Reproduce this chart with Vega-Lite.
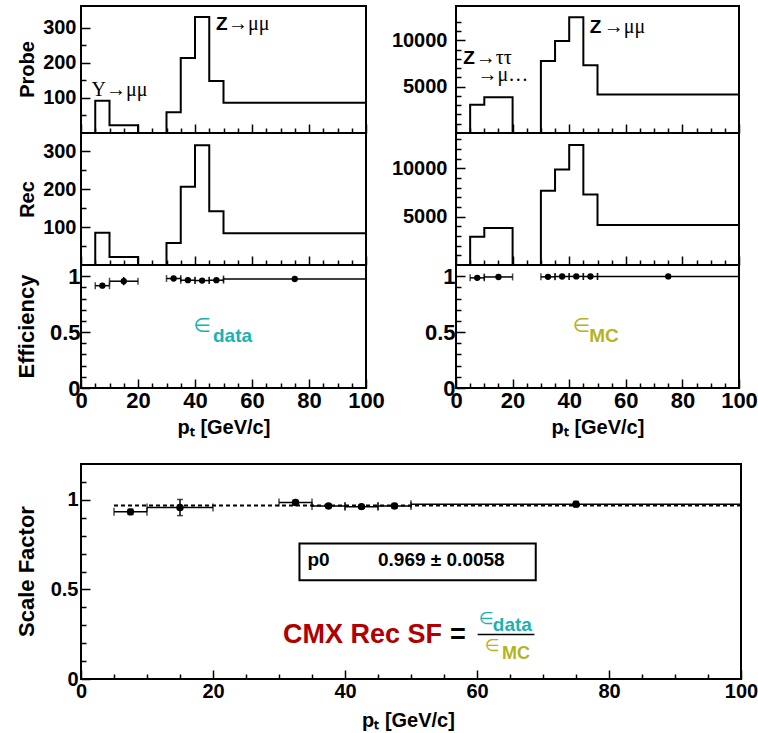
{
  "$schema": "https://vega.github.io/schema/vega-lite/v6.json",
  "background": "white",
  "padding": {"left": 14, "top": 5, "right": 5, "bottom": 5},
  "datasets": {
    "bins": [
      {"lo": 0, "hi": 5, "pt": 2.5, "probe_data": 0, "rec_data": 0, "probe_mc": 0, "rec_mc": 0, "eff_data": null, "eff_data_lo": null, "eff_data_hi": null, "eff_mc": null, "eff_mc_lo": null, "eff_mc_hi": null, "sf": null, "sf_lo": null, "sf_hi": null},
      {"lo": 5, "hi": 10, "pt": 7.5, "probe_data": 92, "rec_data": 85, "probe_mc": 3040, "rec_mc": 2930, "eff_data": 0.915, "eff_data_lo": 0.903, "eff_data_hi": 0.927, "eff_mc": 0.985, "eff_mc_lo": 0.981, "eff_mc_hi": 0.989, "sf": 0.933, "sf_lo": 0.918, "sf_hi": 0.948},
      {"lo": 10, "hi": 20, "pt": 15, "probe_data": 22, "rec_data": 21, "probe_mc": 3850, "rec_mc": 3830, "eff_data": 0.955, "eff_data_lo": 0.918, "eff_data_hi": 0.992, "eff_mc": 0.993, "eff_mc_lo": 0.99, "eff_mc_hi": 0.996, "sf": 0.957, "sf_lo": 0.912, "sf_hi": 1.002},
      {"lo": 20, "hi": 30, "pt": 25, "probe_data": 0, "rec_data": 0, "probe_mc": 0, "rec_mc": 0, "eff_data": null, "eff_data_lo": null, "eff_data_hi": null, "eff_mc": null, "eff_mc_lo": null, "eff_mc_hi": null, "sf": null, "sf_lo": null, "sf_hi": null},
      {"lo": 30, "hi": 35, "pt": 32.5, "probe_data": 59, "rec_data": 58, "probe_mc": 7780, "rec_mc": 7690, "eff_data": 0.979, "eff_data_lo": 0.968, "eff_data_hi": 0.99, "eff_mc": 0.994, "eff_mc_lo": 0.992, "eff_mc_hi": 0.996, "sf": 0.985, "sf_lo": 0.973, "sf_hi": 0.997},
      {"lo": 35, "hi": 40, "pt": 37.5, "probe_data": 214, "rec_data": 206, "probe_mc": 9920, "rec_mc": 9870, "eff_data": 0.964, "eff_data_lo": 0.954, "eff_data_hi": 0.974, "eff_mc": 0.997, "eff_mc_lo": 0.995, "eff_mc_hi": 0.999, "sf": 0.966, "sf_lo": 0.955, "sf_hi": 0.977},
      {"lo": 40, "hi": 45, "pt": 42.5, "probe_data": 331, "rec_data": 316, "probe_mc": 12490, "rec_mc": 12420, "eff_data": 0.961, "eff_data_lo": 0.952, "eff_data_hi": 0.97, "eff_mc": 0.998, "eff_mc_lo": 0.996, "eff_mc_hi": 1.0, "sf": 0.962, "sf_lo": 0.952, "sf_hi": 0.972},
      {"lo": 45, "hi": 50, "pt": 47.5, "probe_data": 148, "rec_data": 142, "probe_mc": 7320, "rec_mc": 7280, "eff_data": 0.964, "eff_data_lo": 0.952, "eff_data_hi": 0.976, "eff_mc": 0.997, "eff_mc_lo": 0.995, "eff_mc_hi": 0.999, "sf": 0.966, "sf_lo": 0.953, "sf_hi": 0.979},
      {"lo": 50, "hi": 100, "pt": 75, "probe_data": 86, "rec_data": 84, "probe_mc": 4140, "rec_mc": 4130, "eff_data": 0.975, "eff_data_lo": 0.96, "eff_data_hi": 0.99, "eff_mc": 0.998, "eff_mc_lo": 0.996, "eff_mc_hi": 1.0, "sf": 0.976, "sf_lo": 0.961, "sf_hi": 0.991}
    ],
    "fit": [{"x1": 5, "x2": 100, "p0": 0.969}],
    "one": [{}]
  },
  "config": {
    "view": {"stroke": "black", "strokeWidth": 2},
    "axis": {
      "grid": false, "domain": false, "tickColor": "black", "tickWidth": 1.5,
      "labelColor": "black", "titleColor": "black",
      "labelFont": "Liberation Sans", "titleFont": "Liberation Sans",
      "labelFontWeight": "bold", "titleFontWeight": "bold",
      "labelFlush": false, "labelOverlap": false, "labelBound": false
    },
    "text": {"font": "Liberation Sans"}
  },
  "spacing": 25,
  "vconcat": [
    {
      "columns": 2,
      "spacing": {"row": 0, "column": 90},
      "bounds": "flush",
      "align": "each",
      "concat": [
        {
          "width": 285, "height": 127,
          "layer": [
            {
              "data": {"name": "bins"},
              "transform": [{"fold": ["lo", "hi"], "as": ["edge", "x"]}],
              "mark": {"type": "line", "color": "black", "strokeWidth": 2},
              "encoding": {
                "x": {"field": "x", "type": "quantitative", "scale": {"domain": [0, 100], "nice": false},
                  "axis": {"values": [0,5,10,15,20,25,30,35,40,45,50,55,60,65,70,75,80,85,90,95,100], "tickSize": {"condition": {"test": "datum.value % 20 === 0", "value": -9}, "value": -5}, "labels": false, "title": null}},
                "y": {"field": "probe_data", "type": "quantitative", "scale": {"domain": [0, 362], "nice": false},
                  "axis": {"values": [50,100,150,200,250,300], "tickSize": {"condition": {"test": "datum.value % 100 === 0", "value": -9}, "value": -5}, "labelExpr": "datum.value % 100 === 0 ? datum.label : ''", "labelOverlap": false, "labelFontSize": 20, "labelPadding": 14, "format": "d", "title": "Probe", "titleFontSize": 20, "titleX": -48, "titleY": 63, "titleAngle": -90, "titleAlign": "center", "titleBaseline": "alphabetic"}},
                "order": [{"field": "x", "type": "quantitative"}, {"field": "edge", "type": "nominal"}]
              }
            },
            {"data": {"name": "one"}, "mark": {"type": "text", "text": "Υ→μμ", "font": "Liberation Serif", "fontSize": 20, "align": "left", "baseline": "alphabetic", "color": "black"}, "encoding": {
              "x": {"datum": 3.7, "axis": {"values": [0,5,10,15,20,25,30,35,40,45,50,55,60,65,70,75,80,85,90,95,100], "tickSize": {"condition": {"test": "datum.value % 20 === 0", "value": -9}, "value": -5}, "labels": false, "title": null}},
              "y": {"datum": 105, "axis": {"values": [50,100,150,200,250,300], "tickSize": {"condition": {"test": "datum.value % 100 === 0", "value": -9}, "value": -5}, "labelExpr": "datum.value % 100 === 0 ? datum.label : ''", "labelOverlap": false, "labelFontSize": 20, "labelPadding": 14, "format": "d", "title": "Probe", "titleFontSize": 20, "titleX": -48, "titleY": 63, "titleAngle": -90, "titleAlign": "center", "titleBaseline": "alphabetic"}}}},
            {"data": {"name": "one"}, "mark": {"type": "text", "text": "Z", "fontSize": 19, "fontWeight": "bold", "align": "left", "baseline": "alphabetic", "color": "black"}, "encoding": {
              "x": {"datum": 47.4, "axis": {"values": [0,5,10,15,20,25,30,35,40,45,50,55,60,65,70,75,80,85,90,95,100], "tickSize": {"condition": {"test": "datum.value % 20 === 0", "value": -9}, "value": -5}, "labels": false, "title": null}},
              "y": {"datum": 295, "axis": {"values": [50,100,150,200,250,300], "tickSize": {"condition": {"test": "datum.value % 100 === 0", "value": -9}, "value": -5}, "labelExpr": "datum.value % 100 === 0 ? datum.label : ''", "labelOverlap": false, "labelFontSize": 20, "labelPadding": 14, "format": "d", "title": "Probe", "titleFontSize": 20, "titleX": -48, "titleY": 63, "titleAngle": -90, "titleAlign": "center", "titleBaseline": "alphabetic"}}}},
            {"data": {"name": "one"}, "mark": {"type": "text", "text": "→μμ", "font": "Liberation Serif", "fontSize": 20, "align": "left", "baseline": "alphabetic", "color": "black"}, "encoding": {
              "x": {"datum": 51.6, "axis": {"values": [0,5,10,15,20,25,30,35,40,45,50,55,60,65,70,75,80,85,90,95,100], "tickSize": {"condition": {"test": "datum.value % 20 === 0", "value": -9}, "value": -5}, "labels": false, "title": null}},
              "y": {"datum": 295, "axis": {"values": [50,100,150,200,250,300], "tickSize": {"condition": {"test": "datum.value % 100 === 0", "value": -9}, "value": -5}, "labelExpr": "datum.value % 100 === 0 ? datum.label : ''", "labelOverlap": false, "labelFontSize": 20, "labelPadding": 14, "format": "d", "title": "Probe", "titleFontSize": 20, "titleX": -48, "titleY": 63, "titleAngle": -90, "titleAlign": "center", "titleBaseline": "alphabetic"}}}}
          ]
        },
        {
          "width": 283, "height": 127,
          "layer": [
            {
              "data": {"name": "bins"},
              "transform": [{"fold": ["lo", "hi"], "as": ["edge", "x"]}],
              "mark": {"type": "line", "color": "black", "strokeWidth": 2},
              "encoding": {
                "x": {"field": "x", "type": "quantitative", "scale": {"domain": [0, 100], "nice": false},
                  "axis": {"values": [0,5,10,15,20,25,30,35,40,45,50,55,60,65,70,75,80,85,90,95,100], "tickSize": {"condition": {"test": "datum.value % 20 === 0", "value": -9}, "value": -5}, "labels": false, "title": null}},
                "y": {"field": "probe_mc", "type": "quantitative", "scale": {"domain": [0, 13700], "nice": false},
                  "axis": {"values": [1000,2000,3000,4000,5000,6000,7000,8000,9000,10000,11000,12000], "tickSize": {"condition": {"test": "datum.value % 5000 === 0", "value": -9}, "value": -5}, "labelExpr": "datum.value % 5000 === 0 ? datum.label : ''", "labelOverlap": false, "labelFontSize": 20, "labelPadding": 18, "format": "d", "title": null}},
                "order": [{"field": "x", "type": "quantitative"}, {"field": "edge", "type": "nominal"}]
              }
            },
            {"data": {"name": "one"}, "mark": {"type": "text", "text": "Z", "fontSize": 19, "fontWeight": "bold", "align": "left", "baseline": "alphabetic", "color": "black"}, "encoding": {
              "x": {"datum": 47.3, "axis": {"values": [0,5,10,15,20,25,30,35,40,45,50,55,60,65,70,75,80,85,90,95,100], "tickSize": {"condition": {"test": "datum.value % 20 === 0", "value": -9}, "value": -5}, "labels": false, "title": null}},
              "y": {"datum": 10800, "axis": {"values": [1000,2000,3000,4000,5000,6000,7000,8000,9000,10000,11000,12000], "tickSize": {"condition": {"test": "datum.value % 5000 === 0", "value": -9}, "value": -5}, "labelExpr": "datum.value % 5000 === 0 ? datum.label : ''", "labelOverlap": false, "labelFontSize": 20, "labelPadding": 18, "format": "d", "title": null}}}},
            {"data": {"name": "one"}, "mark": {"type": "text", "text": "→μμ", "font": "Liberation Serif", "fontSize": 20, "align": "left", "baseline": "alphabetic", "color": "black"}, "encoding": {
              "x": {"datum": 52.2, "axis": {"values": [0,5,10,15,20,25,30,35,40,45,50,55,60,65,70,75,80,85,90,95,100], "tickSize": {"condition": {"test": "datum.value % 20 === 0", "value": -9}, "value": -5}, "labels": false, "title": null}},
              "y": {"datum": 10800, "axis": {"values": [1000,2000,3000,4000,5000,6000,7000,8000,9000,10000,11000,12000], "tickSize": {"condition": {"test": "datum.value % 5000 === 0", "value": -9}, "value": -5}, "labelExpr": "datum.value % 5000 === 0 ? datum.label : ''", "labelOverlap": false, "labelFontSize": 20, "labelPadding": 18, "format": "d", "title": null}}}},
            {"data": {"name": "one"}, "mark": {"type": "text", "text": "Z", "fontSize": 19, "fontWeight": "bold", "align": "left", "baseline": "alphabetic", "color": "black"}, "encoding": {
              "x": {"datum": 2.6, "axis": {"values": [0,5,10,15,20,25,30,35,40,45,50,55,60,65,70,75,80,85,90,95,100], "tickSize": {"condition": {"test": "datum.value % 20 === 0", "value": -9}, "value": -5}, "labels": false, "title": null}},
              "y": {"datum": 7430, "axis": {"values": [1000,2000,3000,4000,5000,6000,7000,8000,9000,10000,11000,12000], "tickSize": {"condition": {"test": "datum.value % 5000 === 0", "value": -9}, "value": -5}, "labelExpr": "datum.value % 5000 === 0 ? datum.label : ''", "labelOverlap": false, "labelFontSize": 20, "labelPadding": 18, "format": "d", "title": null}}}},
            {"data": {"name": "one"}, "mark": {"type": "text", "text": "→ττ", "font": "Liberation Serif", "fontSize": 20, "align": "left", "baseline": "alphabetic", "color": "black"}, "encoding": {
              "x": {"datum": 7.0, "axis": {"values": [0,5,10,15,20,25,30,35,40,45,50,55,60,65,70,75,80,85,90,95,100], "tickSize": {"condition": {"test": "datum.value % 20 === 0", "value": -9}, "value": -5}, "labels": false, "title": null}},
              "y": {"datum": 7430, "axis": {"values": [1000,2000,3000,4000,5000,6000,7000,8000,9000,10000,11000,12000], "tickSize": {"condition": {"test": "datum.value % 5000 === 0", "value": -9}, "value": -5}, "labelExpr": "datum.value % 5000 === 0 ? datum.label : ''", "labelOverlap": false, "labelFontSize": 20, "labelPadding": 18, "format": "d", "title": null}}}},
            {"data": {"name": "one"}, "mark": {"type": "text", "text": "→μ…", "font": "Liberation Serif", "fontSize": 20, "align": "left", "baseline": "alphabetic", "color": "black"}, "encoding": {
              "x": {"datum": 7.6, "axis": {"values": [0,5,10,15,20,25,30,35,40,45,50,55,60,65,70,75,80,85,90,95,100], "tickSize": {"condition": {"test": "datum.value % 20 === 0", "value": -9}, "value": -5}, "labels": false, "title": null}},
              "y": {"datum": 5640, "axis": {"values": [1000,2000,3000,4000,5000,6000,7000,8000,9000,10000,11000,12000], "tickSize": {"condition": {"test": "datum.value % 5000 === 0", "value": -9}, "value": -5}, "labelExpr": "datum.value % 5000 === 0 ? datum.label : ''", "labelOverlap": false, "labelFontSize": 20, "labelPadding": 18, "format": "d", "title": null}}}}
          ]
        },
        {
          "width": 285, "height": 132,
          "layer": [
            {
              "data": {"name": "bins"},
              "transform": [{"fold": ["lo", "hi"], "as": ["edge", "x"]}],
              "mark": {"type": "line", "color": "black", "strokeWidth": 2},
              "encoding": {
                "x": {"field": "x", "type": "quantitative", "scale": {"domain": [0, 100], "nice": false},
                  "axis": {"values": [0,5,10,15,20,25,30,35,40,45,50,55,60,65,70,75,80,85,90,95,100], "tickSize": {"condition": {"test": "datum.value % 20 === 0", "value": -9}, "value": -5}, "labels": false, "title": null}},
                "y": {"field": "rec_data", "type": "quantitative", "scale": {"domain": [0, 348], "nice": false},
                  "axis": {"values": [50,100,150,200,250,300], "tickSize": {"condition": {"test": "datum.value % 100 === 0", "value": -9}, "value": -5}, "labelExpr": "datum.value % 100 === 0 ? datum.label : ''", "labelOverlap": false, "labelFontSize": 20, "labelPadding": 14, "format": "d", "title": "Rec", "titleFontSize": 20, "titleX": -48, "titleY": 66, "titleAngle": -90, "titleAlign": "center", "titleBaseline": "alphabetic"}},
                "order": [{"field": "x", "type": "quantitative"}, {"field": "edge", "type": "nominal"}]
              }
            }
          ]
        },
        {
          "width": 283, "height": 132,
          "layer": [
            {
              "data": {"name": "bins"},
              "transform": [{"fold": ["lo", "hi"], "as": ["edge", "x"]}],
              "mark": {"type": "line", "color": "black", "strokeWidth": 2},
              "encoding": {
                "x": {"field": "x", "type": "quantitative", "scale": {"domain": [0, 100], "nice": false},
                  "axis": {"values": [0,5,10,15,20,25,30,35,40,45,50,55,60,65,70,75,80,85,90,95,100], "tickSize": {"condition": {"test": "datum.value % 20 === 0", "value": -9}, "value": -5}, "labels": false, "title": null}},
                "y": {"field": "rec_mc", "type": "quantitative", "scale": {"domain": [0, 13650], "nice": false},
                  "axis": {"values": [1000,2000,3000,4000,5000,6000,7000,8000,9000,10000,11000,12000,13000], "tickSize": {"condition": {"test": "datum.value % 5000 === 0", "value": -9}, "value": -5}, "labelExpr": "datum.value % 5000 === 0 ? datum.label : ''", "labelOverlap": false, "labelFontSize": 20, "labelPadding": 18, "format": "d", "title": null}},
                "order": [{"field": "x", "type": "quantitative"}, {"field": "edge", "type": "nominal"}]
              }
            }
          ]
        },
        {
          "width": 285, "height": 123,
          "layer": [
            {
              "data": {"name": "bins"},
              "transform": [{"filter": "datum.eff_data != null"}],
              "mark": {"type": "rule", "color": "black", "strokeWidth": 1.5},
              "encoding": {
                "x": {"field": "lo", "type": "quantitative", "scale": {"domain": [0, 100], "nice": false},
                  "axis": {"values": [0,5,10,15,20,25,30,35,40,45,50,55,60,65,70,75,80,85,90,95,100], "tickSize": {"condition": {"test": "datum.value % 20 === 0", "value": -9}, "value": -5}, "labelExpr": "datum.value % 20 === 0 ? datum.label : ''", "labelOverlap": false, "labelFontSize": 22, "labelPadding": 11, "format": "d", "title": "pₜ  [GeV/c]", "titleFontSize": 20, "titleX": 142.5, "titleY": 45, "titleAlign": "center", "titleBaseline": "alphabetic"}},
                "x2": {"field": "hi"},
                "y": {"field": "eff_data", "type": "quantitative", "scale": {"domain": [0, 1.1], "nice": false},
                  "axis": {"values": [0,0.1,0.2,0.3,0.4,0.5,0.6,0.7,0.8,0.9,1], "tickSize": {"condition": {"test": "datum.value == 0 || datum.value == 0.5 || datum.value == 1", "value": -9}, "value": -5}, "labelExpr": "(datum.value == 0 || datum.value == 0.5 || datum.value == 1) ? datum.label : ''", "labelOverlap": false, "format": "~g", "labelFontSize": 22, "labelPadding": 10, "title": "Efficiency", "titleFontSize": 22, "titleX": -48, "titleY": 61, "titleAngle": -90, "titleAlign": "center", "titleBaseline": "alphabetic"}}
              }
            },
            {
              "data": {"name": "bins"},
              "transform": [{"filter": "datum.eff_data != null"}],
              "mark": {"type": "rule", "color": "black", "strokeWidth": 1.5},
              "encoding": {
                "x": {"field": "pt", "type": "quantitative", "axis": {"values": [0,5,10,15,20,25,30,35,40,45,50,55,60,65,70,75,80,85,90,95,100], "tickSize": {"condition": {"test": "datum.value % 20 === 0", "value": -9}, "value": -5}, "labelExpr": "datum.value % 20 === 0 ? datum.label : ''", "labelOverlap": false, "labelFontSize": 22, "labelPadding": 11, "format": "d", "title": "pₜ  [GeV/c]", "titleFontSize": 20, "titleX": 142.5, "titleY": 45, "titleAlign": "center", "titleBaseline": "alphabetic"}},
                "y": {"field": "eff_data_lo", "type": "quantitative", "axis": {"values": [0,0.1,0.2,0.3,0.4,0.5,0.6,0.7,0.8,0.9,1], "tickSize": {"condition": {"test": "datum.value == 0 || datum.value == 0.5 || datum.value == 1", "value": -9}, "value": -5}, "labelExpr": "(datum.value == 0 || datum.value == 0.5 || datum.value == 1) ? datum.label : ''", "labelOverlap": false, "format": "~g", "labelFontSize": 22, "labelPadding": 10, "title": "Efficiency", "titleFontSize": 22, "titleX": -48, "titleY": 61, "titleAngle": -90, "titleAlign": "center", "titleBaseline": "alphabetic"}},
                "y2": {"field": "eff_data_hi"}}
            },
            {
              "data": {"name": "bins"},
              "transform": [{"filter": "datum.eff_data != null"}, {"fold": ["lo", "hi"], "as": ["edge", "xe"]}],
              "mark": {"type": "tick", "orient": "vertical", "color": "black", "size": 7, "thickness": 1.5},
              "encoding": {
                "x": {"field": "xe", "type": "quantitative", "axis": {"values": [0,5,10,15,20,25,30,35,40,45,50,55,60,65,70,75,80,85,90,95,100], "tickSize": {"condition": {"test": "datum.value % 20 === 0", "value": -9}, "value": -5}, "labelExpr": "datum.value % 20 === 0 ? datum.label : ''", "labelOverlap": false, "labelFontSize": 22, "labelPadding": 11, "format": "d", "title": "pₜ  [GeV/c]", "titleFontSize": 20, "titleX": 142.5, "titleY": 45, "titleAlign": "center", "titleBaseline": "alphabetic"}},
                "y": {"field": "eff_data", "type": "quantitative", "axis": {"values": [0,0.1,0.2,0.3,0.4,0.5,0.6,0.7,0.8,0.9,1], "tickSize": {"condition": {"test": "datum.value == 0 || datum.value == 0.5 || datum.value == 1", "value": -9}, "value": -5}, "labelExpr": "(datum.value == 0 || datum.value == 0.5 || datum.value == 1) ? datum.label : ''", "labelOverlap": false, "format": "~g", "labelFontSize": 22, "labelPadding": 10, "title": "Efficiency", "titleFontSize": 22, "titleX": -48, "titleY": 61, "titleAngle": -90, "titleAlign": "center", "titleBaseline": "alphabetic"}}}
            },
            {
              "data": {"name": "bins"},
              "transform": [{"filter": "datum.eff_data != null"}],
              "mark": {"type": "circle", "color": "black", "opacity": 1, "size": 40},
              "encoding": {
                "x": {"field": "pt", "type": "quantitative", "axis": {"values": [0,5,10,15,20,25,30,35,40,45,50,55,60,65,70,75,80,85,90,95,100], "tickSize": {"condition": {"test": "datum.value % 20 === 0", "value": -9}, "value": -5}, "labelExpr": "datum.value % 20 === 0 ? datum.label : ''", "labelOverlap": false, "labelFontSize": 22, "labelPadding": 11, "format": "d", "title": "pₜ  [GeV/c]", "titleFontSize": 20, "titleX": 142.5, "titleY": 45, "titleAlign": "center", "titleBaseline": "alphabetic"}},
                "y": {"field": "eff_data", "type": "quantitative", "axis": {"values": [0,0.1,0.2,0.3,0.4,0.5,0.6,0.7,0.8,0.9,1], "tickSize": {"condition": {"test": "datum.value == 0 || datum.value == 0.5 || datum.value == 1", "value": -9}, "value": -5}, "labelExpr": "(datum.value == 0 || datum.value == 0.5 || datum.value == 1) ? datum.label : ''", "labelOverlap": false, "format": "~g", "labelFontSize": 22, "labelPadding": 10, "title": "Efficiency", "titleFontSize": 22, "titleX": -48, "titleY": 61, "titleAngle": -90, "titleAlign": "center", "titleBaseline": "alphabetic"}}}
            },
            {"data": {"name": "one"}, "mark": {"type": "text", "text": "∈", "font": "DejaVu Sans", "fontSize": 20, "align": "left", "baseline": "alphabetic", "color": "#19b3b3"}, "encoding": {
              "x": {"datum": 39.4, "axis": {"values": [0,5,10,15,20,25,30,35,40,45,50,55,60,65,70,75,80,85,90,95,100], "tickSize": {"condition": {"test": "datum.value % 20 === 0", "value": -9}, "value": -5}, "labelExpr": "datum.value % 20 === 0 ? datum.label : ''", "labelOverlap": false, "labelFontSize": 22, "labelPadding": 11, "format": "d", "title": "pₜ  [GeV/c]", "titleFontSize": 20, "titleX": 142.5, "titleY": 45, "titleAlign": "center", "titleBaseline": "alphabetic"}},
              "y": {"datum": 0.5, "axis": {"values": [0,0.1,0.2,0.3,0.4,0.5,0.6,0.7,0.8,0.9,1], "tickSize": {"condition": {"test": "datum.value == 0 || datum.value == 0.5 || datum.value == 1", "value": -9}, "value": -5}, "labelExpr": "(datum.value == 0 || datum.value == 0.5 || datum.value == 1) ? datum.label : ''", "labelOverlap": false, "format": "~g", "labelFontSize": 22, "labelPadding": 10, "title": "Efficiency", "titleFontSize": 22, "titleX": -48, "titleY": 61, "titleAngle": -90, "titleAlign": "center", "titleBaseline": "alphabetic"}}}},
            {"data": {"name": "one"}, "mark": {"type": "text", "text": "data", "fontSize": 19, "fontWeight": "bold", "align": "left", "baseline": "alphabetic", "color": "#19b3b3"}, "encoding": {
              "x": {"datum": 46.3, "axis": {"values": [0,5,10,15,20,25,30,35,40,45,50,55,60,65,70,75,80,85,90,95,100], "tickSize": {"condition": {"test": "datum.value % 20 === 0", "value": -9}, "value": -5}, "labelExpr": "datum.value % 20 === 0 ? datum.label : ''", "labelOverlap": false, "labelFontSize": 22, "labelPadding": 11, "format": "d", "title": "pₜ  [GeV/c]", "titleFontSize": 20, "titleX": 142.5, "titleY": 45, "titleAlign": "center", "titleBaseline": "alphabetic"}},
              "y": {"datum": 0.41, "axis": {"values": [0,0.1,0.2,0.3,0.4,0.5,0.6,0.7,0.8,0.9,1], "tickSize": {"condition": {"test": "datum.value == 0 || datum.value == 0.5 || datum.value == 1", "value": -9}, "value": -5}, "labelExpr": "(datum.value == 0 || datum.value == 0.5 || datum.value == 1) ? datum.label : ''", "labelOverlap": false, "format": "~g", "labelFontSize": 22, "labelPadding": 10, "title": "Efficiency", "titleFontSize": 22, "titleX": -48, "titleY": 61, "titleAngle": -90, "titleAlign": "center", "titleBaseline": "alphabetic"}}}}
          ]
        },
        {
          "width": 283, "height": 123,
          "layer": [
            {
              "data": {"name": "bins"},
              "transform": [{"filter": "datum.eff_mc != null"}],
              "mark": {"type": "rule", "color": "black", "strokeWidth": 1.5},
              "encoding": {
                "x": {"field": "lo", "type": "quantitative", "scale": {"domain": [0, 100], "nice": false},
                  "axis": {"values": [0,5,10,15,20,25,30,35,40,45,50,55,60,65,70,75,80,85,90,95,100], "tickSize": {"condition": {"test": "datum.value % 20 === 0", "value": -9}, "value": -5}, "labelExpr": "datum.value % 20 === 0 ? datum.label : ''", "labelOverlap": false, "labelFontSize": 22, "labelPadding": 11, "format": "d", "title": "pₜ  [GeV/c]", "titleFontSize": 20, "titleX": 141.5, "titleY": 45, "titleAlign": "center", "titleBaseline": "alphabetic"}},
                "x2": {"field": "hi"},
                "y": {"field": "eff_mc", "type": "quantitative", "scale": {"domain": [0, 1.1], "nice": false},
                  "axis": {"values": [0,0.1,0.2,0.3,0.4,0.5,0.6,0.7,0.8,0.9,1], "tickSize": {"condition": {"test": "datum.value == 0 || datum.value == 0.5 || datum.value == 1", "value": -9}, "value": -5}, "labelExpr": "(datum.value == 0 || datum.value == 0.5 || datum.value == 1) ? datum.label : ''", "labelOverlap": false, "format": "~g", "labelFontSize": 22, "labelPadding": 10, "title": null}}
              }
            },
            {
              "data": {"name": "bins"},
              "transform": [{"filter": "datum.eff_mc != null"}],
              "mark": {"type": "rule", "color": "black", "strokeWidth": 1.5},
              "encoding": {
                "x": {"field": "pt", "type": "quantitative", "axis": {"values": [0,5,10,15,20,25,30,35,40,45,50,55,60,65,70,75,80,85,90,95,100], "tickSize": {"condition": {"test": "datum.value % 20 === 0", "value": -9}, "value": -5}, "labelExpr": "datum.value % 20 === 0 ? datum.label : ''", "labelOverlap": false, "labelFontSize": 22, "labelPadding": 11, "format": "d", "title": "pₜ  [GeV/c]", "titleFontSize": 20, "titleX": 141.5, "titleY": 45, "titleAlign": "center", "titleBaseline": "alphabetic"}},
                "y": {"field": "eff_mc_lo", "type": "quantitative", "axis": {"values": [0,0.1,0.2,0.3,0.4,0.5,0.6,0.7,0.8,0.9,1], "tickSize": {"condition": {"test": "datum.value == 0 || datum.value == 0.5 || datum.value == 1", "value": -9}, "value": -5}, "labelExpr": "(datum.value == 0 || datum.value == 0.5 || datum.value == 1) ? datum.label : ''", "labelOverlap": false, "format": "~g", "labelFontSize": 22, "labelPadding": 10, "title": null}},
                "y2": {"field": "eff_mc_hi"}}
            },
            {
              "data": {"name": "bins"},
              "transform": [{"filter": "datum.eff_mc != null"}, {"fold": ["lo", "hi"], "as": ["edge", "xe"]}],
              "mark": {"type": "tick", "orient": "vertical", "color": "black", "size": 7, "thickness": 1.5},
              "encoding": {
                "x": {"field": "xe", "type": "quantitative", "axis": {"values": [0,5,10,15,20,25,30,35,40,45,50,55,60,65,70,75,80,85,90,95,100], "tickSize": {"condition": {"test": "datum.value % 20 === 0", "value": -9}, "value": -5}, "labelExpr": "datum.value % 20 === 0 ? datum.label : ''", "labelOverlap": false, "labelFontSize": 22, "labelPadding": 11, "format": "d", "title": "pₜ  [GeV/c]", "titleFontSize": 20, "titleX": 141.5, "titleY": 45, "titleAlign": "center", "titleBaseline": "alphabetic"}},
                "y": {"field": "eff_mc", "type": "quantitative", "axis": {"values": [0,0.1,0.2,0.3,0.4,0.5,0.6,0.7,0.8,0.9,1], "tickSize": {"condition": {"test": "datum.value == 0 || datum.value == 0.5 || datum.value == 1", "value": -9}, "value": -5}, "labelExpr": "(datum.value == 0 || datum.value == 0.5 || datum.value == 1) ? datum.label : ''", "labelOverlap": false, "format": "~g", "labelFontSize": 22, "labelPadding": 10, "title": null}}}
            },
            {
              "data": {"name": "bins"},
              "transform": [{"filter": "datum.eff_mc != null"}],
              "mark": {"type": "circle", "color": "black", "opacity": 1, "size": 40},
              "encoding": {
                "x": {"field": "pt", "type": "quantitative", "axis": {"values": [0,5,10,15,20,25,30,35,40,45,50,55,60,65,70,75,80,85,90,95,100], "tickSize": {"condition": {"test": "datum.value % 20 === 0", "value": -9}, "value": -5}, "labelExpr": "datum.value % 20 === 0 ? datum.label : ''", "labelOverlap": false, "labelFontSize": 22, "labelPadding": 11, "format": "d", "title": "pₜ  [GeV/c]", "titleFontSize": 20, "titleX": 141.5, "titleY": 45, "titleAlign": "center", "titleBaseline": "alphabetic"}},
                "y": {"field": "eff_mc", "type": "quantitative", "axis": {"values": [0,0.1,0.2,0.3,0.4,0.5,0.6,0.7,0.8,0.9,1], "tickSize": {"condition": {"test": "datum.value == 0 || datum.value == 0.5 || datum.value == 1", "value": -9}, "value": -5}, "labelExpr": "(datum.value == 0 || datum.value == 0.5 || datum.value == 1) ? datum.label : ''", "labelOverlap": false, "format": "~g", "labelFontSize": 22, "labelPadding": 10, "title": null}}}
            },
            {"data": {"name": "one"}, "mark": {"type": "text", "text": "∈", "font": "DejaVu Sans", "fontSize": 20, "align": "left", "baseline": "alphabetic", "color": "#b4b41e"}, "encoding": {
              "x": {"datum": 41.2, "axis": {"values": [0,5,10,15,20,25,30,35,40,45,50,55,60,65,70,75,80,85,90,95,100], "tickSize": {"condition": {"test": "datum.value % 20 === 0", "value": -9}, "value": -5}, "labelExpr": "datum.value % 20 === 0 ? datum.label : ''", "labelOverlap": false, "labelFontSize": 22, "labelPadding": 11, "format": "d", "title": "pₜ  [GeV/c]", "titleFontSize": 20, "titleX": 141.5, "titleY": 45, "titleAlign": "center", "titleBaseline": "alphabetic"}},
              "y": {"datum": 0.5, "axis": {"values": [0,0.1,0.2,0.3,0.4,0.5,0.6,0.7,0.8,0.9,1], "tickSize": {"condition": {"test": "datum.value == 0 || datum.value == 0.5 || datum.value == 1", "value": -9}, "value": -5}, "labelExpr": "(datum.value == 0 || datum.value == 0.5 || datum.value == 1) ? datum.label : ''", "labelOverlap": false, "format": "~g", "labelFontSize": 22, "labelPadding": 10, "title": null}}}},
            {"data": {"name": "one"}, "mark": {"type": "text", "text": "MC", "fontSize": 19, "fontWeight": "bold", "align": "left", "baseline": "alphabetic", "color": "#b4b41e"}, "encoding": {
              "x": {"datum": 47.1, "axis": {"values": [0,5,10,15,20,25,30,35,40,45,50,55,60,65,70,75,80,85,90,95,100], "tickSize": {"condition": {"test": "datum.value % 20 === 0", "value": -9}, "value": -5}, "labelExpr": "datum.value % 20 === 0 ? datum.label : ''", "labelOverlap": false, "labelFontSize": 22, "labelPadding": 11, "format": "d", "title": "pₜ  [GeV/c]", "titleFontSize": 20, "titleX": 141.5, "titleY": 45, "titleAlign": "center", "titleBaseline": "alphabetic"}},
              "y": {"datum": 0.41, "axis": {"values": [0,0.1,0.2,0.3,0.4,0.5,0.6,0.7,0.8,0.9,1], "tickSize": {"condition": {"test": "datum.value == 0 || datum.value == 0.5 || datum.value == 1", "value": -9}, "value": -5}, "labelExpr": "(datum.value == 0 || datum.value == 0.5 || datum.value == 1) ? datum.label : ''", "labelOverlap": false, "format": "~g", "labelFontSize": 22, "labelPadding": 10, "title": null}}}}
          ]
        }
      ]
    },
    {
      "width": 660, "height": 215,
      "layer": [
        {
          "data": {"name": "fit"},
          "mark": {"type": "rule", "color": "black", "strokeWidth": 2, "strokeDash": [4, 3]},
          "encoding": {
            "x": {"field": "x1", "type": "quantitative", "scale": {"domain": [0, 100], "nice": false},
              "axis": {"values": [0,5,10,15,20,25,30,35,40,45,50,55,60,65,70,75,80,85,90,95,100], "tickSize": {"condition": {"test": "datum.value % 20 === 0", "value": -9}, "value": -5}, "labelExpr": "datum.value % 20 === 0 ? datum.label : ''", "labelOverlap": false, "labelFontSize": 20, "labelPadding": 11, "format": "d", "title": "pₜ  [GeV/c]", "titleFontSize": 20, "titleX": 327, "titleY": 47, "titleAlign": "center", "titleBaseline": "alphabetic"}},
            "x2": {"field": "x2"},
            "y": {"field": "p0", "type": "quantitative", "scale": {"domain": [0, 1.2], "nice": false},
              "axis": {"values": [0,0.1,0.2,0.3,0.4,0.5,0.6,0.7,0.8,0.9,1,1.1], "tickSize": {"condition": {"test": "datum.value == 0 || datum.value == 0.5 || datum.value == 1", "value": -9}, "value": -5}, "labelExpr": "(datum.value == 0 || datum.value == 0.5 || datum.value == 1) ? datum.label : ''", "labelOverlap": false, "format": "~g", "labelFontSize": 20, "labelPadding": 12, "title": "Scale Factor", "titleFontSize": 22, "titleX": -48, "titleY": 107, "titleAngle": -90, "titleAlign": "center", "titleBaseline": "alphabetic"}}
          }
        },
        {
          "data": {"name": "bins"},
          "transform": [{"filter": "datum.sf != null"}],
          "mark": {"type": "rule", "color": "black", "strokeWidth": 1.5},
          "encoding": {
            "x": {"field": "lo", "type": "quantitative", "axis": {"values": [0,5,10,15,20,25,30,35,40,45,50,55,60,65,70,75,80,85,90,95,100], "tickSize": {"condition": {"test": "datum.value % 20 === 0", "value": -9}, "value": -5}, "labelExpr": "datum.value % 20 === 0 ? datum.label : ''", "labelOverlap": false, "labelFontSize": 20, "labelPadding": 11, "format": "d", "title": "pₜ  [GeV/c]", "titleFontSize": 20, "titleX": 327, "titleY": 47, "titleAlign": "center", "titleBaseline": "alphabetic"}},
            "x2": {"field": "hi"},
            "y": {"field": "sf", "type": "quantitative", "axis": {"values": [0,0.1,0.2,0.3,0.4,0.5,0.6,0.7,0.8,0.9,1,1.1], "tickSize": {"condition": {"test": "datum.value == 0 || datum.value == 0.5 || datum.value == 1", "value": -9}, "value": -5}, "labelExpr": "(datum.value == 0 || datum.value == 0.5 || datum.value == 1) ? datum.label : ''", "labelOverlap": false, "format": "~g", "labelFontSize": 20, "labelPadding": 12, "title": "Scale Factor", "titleFontSize": 22, "titleX": -48, "titleY": 107, "titleAngle": -90, "titleAlign": "center", "titleBaseline": "alphabetic"}}}
        },
        {
          "data": {"name": "bins"},
          "transform": [{"filter": "datum.sf != null"}],
          "mark": {"type": "rule", "color": "black", "strokeWidth": 1.5},
          "encoding": {
            "x": {"field": "pt", "type": "quantitative", "axis": {"values": [0,5,10,15,20,25,30,35,40,45,50,55,60,65,70,75,80,85,90,95,100], "tickSize": {"condition": {"test": "datum.value % 20 === 0", "value": -9}, "value": -5}, "labelExpr": "datum.value % 20 === 0 ? datum.label : ''", "labelOverlap": false, "labelFontSize": 20, "labelPadding": 11, "format": "d", "title": "pₜ  [GeV/c]", "titleFontSize": 20, "titleX": 327, "titleY": 47, "titleAlign": "center", "titleBaseline": "alphabetic"}},
            "y": {"field": "sf_lo", "type": "quantitative", "axis": {"values": [0,0.1,0.2,0.3,0.4,0.5,0.6,0.7,0.8,0.9,1,1.1], "tickSize": {"condition": {"test": "datum.value == 0 || datum.value == 0.5 || datum.value == 1", "value": -9}, "value": -5}, "labelExpr": "(datum.value == 0 || datum.value == 0.5 || datum.value == 1) ? datum.label : ''", "labelOverlap": false, "format": "~g", "labelFontSize": 20, "labelPadding": 12, "title": "Scale Factor", "titleFontSize": 22, "titleX": -48, "titleY": 107, "titleAngle": -90, "titleAlign": "center", "titleBaseline": "alphabetic"}},
            "y2": {"field": "sf_hi"}}
        },
        {
          "data": {"name": "bins"},
          "transform": [{"filter": "datum.sf != null"}, {"fold": ["lo", "hi"], "as": ["edge", "xe"]}],
          "mark": {"type": "tick", "orient": "vertical", "color": "black", "size": 8, "thickness": 1.5},
          "encoding": {
            "x": {"field": "xe", "type": "quantitative", "axis": {"values": [0,5,10,15,20,25,30,35,40,45,50,55,60,65,70,75,80,85,90,95,100], "tickSize": {"condition": {"test": "datum.value % 20 === 0", "value": -9}, "value": -5}, "labelExpr": "datum.value % 20 === 0 ? datum.label : ''", "labelOverlap": false, "labelFontSize": 20, "labelPadding": 11, "format": "d", "title": "pₜ  [GeV/c]", "titleFontSize": 20, "titleX": 327, "titleY": 47, "titleAlign": "center", "titleBaseline": "alphabetic"}},
            "y": {"field": "sf", "type": "quantitative", "axis": {"values": [0,0.1,0.2,0.3,0.4,0.5,0.6,0.7,0.8,0.9,1,1.1], "tickSize": {"condition": {"test": "datum.value == 0 || datum.value == 0.5 || datum.value == 1", "value": -9}, "value": -5}, "labelExpr": "(datum.value == 0 || datum.value == 0.5 || datum.value == 1) ? datum.label : ''", "labelOverlap": false, "format": "~g", "labelFontSize": 20, "labelPadding": 12, "title": "Scale Factor", "titleFontSize": 22, "titleX": -48, "titleY": 107, "titleAngle": -90, "titleAlign": "center", "titleBaseline": "alphabetic"}}}
        },
        {
          "data": {"name": "bins"},
          "transform": [{"filter": "datum.sf != null"}, {"fold": ["sf_lo", "sf_hi"], "as": ["edge", "ye"]}],
          "mark": {"type": "tick", "orient": "horizontal", "color": "black", "size": 6, "thickness": 1.5},
          "encoding": {
            "x": {"field": "pt", "type": "quantitative", "axis": {"values": [0,5,10,15,20,25,30,35,40,45,50,55,60,65,70,75,80,85,90,95,100], "tickSize": {"condition": {"test": "datum.value % 20 === 0", "value": -9}, "value": -5}, "labelExpr": "datum.value % 20 === 0 ? datum.label : ''", "labelOverlap": false, "labelFontSize": 20, "labelPadding": 11, "format": "d", "title": "pₜ  [GeV/c]", "titleFontSize": 20, "titleX": 327, "titleY": 47, "titleAlign": "center", "titleBaseline": "alphabetic"}},
            "y": {"field": "ye", "type": "quantitative", "axis": {"values": [0,0.1,0.2,0.3,0.4,0.5,0.6,0.7,0.8,0.9,1,1.1], "tickSize": {"condition": {"test": "datum.value == 0 || datum.value == 0.5 || datum.value == 1", "value": -9}, "value": -5}, "labelExpr": "(datum.value == 0 || datum.value == 0.5 || datum.value == 1) ? datum.label : ''", "labelOverlap": false, "format": "~g", "labelFontSize": 20, "labelPadding": 12, "title": "Scale Factor", "titleFontSize": 22, "titleX": -48, "titleY": 107, "titleAngle": -90, "titleAlign": "center", "titleBaseline": "alphabetic"}}}
        },
        {
          "data": {"name": "bins"},
          "transform": [{"filter": "datum.sf != null"}],
          "mark": {"type": "circle", "color": "black", "opacity": 1, "size": 55},
          "encoding": {
            "x": {"field": "pt", "type": "quantitative", "axis": {"values": [0,5,10,15,20,25,30,35,40,45,50,55,60,65,70,75,80,85,90,95,100], "tickSize": {"condition": {"test": "datum.value % 20 === 0", "value": -9}, "value": -5}, "labelExpr": "datum.value % 20 === 0 ? datum.label : ''", "labelOverlap": false, "labelFontSize": 20, "labelPadding": 11, "format": "d", "title": "pₜ  [GeV/c]", "titleFontSize": 20, "titleX": 327, "titleY": 47, "titleAlign": "center", "titleBaseline": "alphabetic"}},
            "y": {"field": "sf", "type": "quantitative", "axis": {"values": [0,0.1,0.2,0.3,0.4,0.5,0.6,0.7,0.8,0.9,1,1.1], "tickSize": {"condition": {"test": "datum.value == 0 || datum.value == 0.5 || datum.value == 1", "value": -9}, "value": -5}, "labelExpr": "(datum.value == 0 || datum.value == 0.5 || datum.value == 1) ? datum.label : ''", "labelOverlap": false, "format": "~g", "labelFontSize": 20, "labelPadding": 12, "title": "Scale Factor", "titleFontSize": 22, "titleX": -48, "titleY": 107, "titleAngle": -90, "titleAlign": "center", "titleBaseline": "alphabetic"}}}
        },
        {"data": {"name": "one"}, "mark": {"type": "rect", "fill": "white", "stroke": "black", "strokeWidth": 2}, "encoding": {
          "x": {"datum": 33.1, "axis": {"values": [0,5,10,15,20,25,30,35,40,45,50,55,60,65,70,75,80,85,90,95,100], "tickSize": {"condition": {"test": "datum.value % 20 === 0", "value": -9}, "value": -5}, "labelExpr": "datum.value % 20 === 0 ? datum.label : ''", "labelOverlap": false, "labelFontSize": 20, "labelPadding": 11, "format": "d", "title": "pₜ  [GeV/c]", "titleFontSize": 20, "titleX": 327, "titleY": 47, "titleAlign": "center", "titleBaseline": "alphabetic"}},
          "x2": {"datum": 68.9},
          "y": {"datum": 0.756, "axis": {"values": [0,0.1,0.2,0.3,0.4,0.5,0.6,0.7,0.8,0.9,1,1.1], "tickSize": {"condition": {"test": "datum.value == 0 || datum.value == 0.5 || datum.value == 1", "value": -9}, "value": -5}, "labelExpr": "(datum.value == 0 || datum.value == 0.5 || datum.value == 1) ? datum.label : ''", "labelOverlap": false, "format": "~g", "labelFontSize": 20, "labelPadding": 12, "title": "Scale Factor", "titleFontSize": 22, "titleX": -48, "titleY": 107, "titleAngle": -90, "titleAlign": "center", "titleBaseline": "alphabetic"}},
          "y2": {"datum": 0.551}}},
        {"data": {"name": "one"}, "mark": {"type": "text", "text": "p0", "fontSize": 19, "fontWeight": "bold", "align": "left", "baseline": "alphabetic", "color": "black"}, "encoding": {
          "x": {"datum": 34.3, "axis": {"values": [0,5,10,15,20,25,30,35,40,45,50,55,60,65,70,75,80,85,90,95,100], "tickSize": {"condition": {"test": "datum.value % 20 === 0", "value": -9}, "value": -5}, "labelExpr": "datum.value % 20 === 0 ? datum.label : ''", "labelOverlap": false, "labelFontSize": 20, "labelPadding": 11, "format": "d", "title": "pₜ  [GeV/c]", "titleFontSize": 20, "titleX": 327, "titleY": 47, "titleAlign": "center", "titleBaseline": "alphabetic"}},
          "y": {"datum": 0.631, "axis": {"values": [0,0.1,0.2,0.3,0.4,0.5,0.6,0.7,0.8,0.9,1,1.1], "tickSize": {"condition": {"test": "datum.value == 0 || datum.value == 0.5 || datum.value == 1", "value": -9}, "value": -5}, "labelExpr": "(datum.value == 0 || datum.value == 0.5 || datum.value == 1) ? datum.label : ''", "labelOverlap": false, "format": "~g", "labelFontSize": 20, "labelPadding": 12, "title": "Scale Factor", "titleFontSize": 22, "titleX": -48, "titleY": 107, "titleAngle": -90, "titleAlign": "center", "titleBaseline": "alphabetic"}}}},
        {"data": {"name": "one"}, "mark": {"type": "text", "text": "0.969 ± 0.0058", "fontSize": 19, "fontWeight": "bold", "align": "left", "baseline": "alphabetic", "color": "black"}, "encoding": {
          "x": {"datum": 45.0, "axis": {"values": [0,5,10,15,20,25,30,35,40,45,50,55,60,65,70,75,80,85,90,95,100], "tickSize": {"condition": {"test": "datum.value % 20 === 0", "value": -9}, "value": -5}, "labelExpr": "datum.value % 20 === 0 ? datum.label : ''", "labelOverlap": false, "labelFontSize": 20, "labelPadding": 11, "format": "d", "title": "pₜ  [GeV/c]", "titleFontSize": 20, "titleX": 327, "titleY": 47, "titleAlign": "center", "titleBaseline": "alphabetic"}},
          "y": {"datum": 0.631, "axis": {"values": [0,0.1,0.2,0.3,0.4,0.5,0.6,0.7,0.8,0.9,1,1.1], "tickSize": {"condition": {"test": "datum.value == 0 || datum.value == 0.5 || datum.value == 1", "value": -9}, "value": -5}, "labelExpr": "(datum.value == 0 || datum.value == 0.5 || datum.value == 1) ? datum.label : ''", "labelOverlap": false, "format": "~g", "labelFontSize": 20, "labelPadding": 12, "title": "Scale Factor", "titleFontSize": 22, "titleX": -48, "titleY": 107, "titleAngle": -90, "titleAlign": "center", "titleBaseline": "alphabetic"}}}},
        {"data": {"name": "one"}, "mark": {"type": "text", "text": "CMX Rec SF", "fontSize": 27, "fontWeight": "bold", "align": "left", "baseline": "alphabetic", "color": "#b00000"}, "encoding": {
          "x": {"datum": 30.6, "axis": {"values": [0,5,10,15,20,25,30,35,40,45,50,55,60,65,70,75,80,85,90,95,100], "tickSize": {"condition": {"test": "datum.value % 20 === 0", "value": -9}, "value": -5}, "labelExpr": "datum.value % 20 === 0 ? datum.label : ''", "labelOverlap": false, "labelFontSize": 20, "labelPadding": 11, "format": "d", "title": "pₜ  [GeV/c]", "titleFontSize": 20, "titleX": 327, "titleY": 47, "titleAlign": "center", "titleBaseline": "alphabetic"}},
          "y": {"datum": 0.203, "axis": {"values": [0,0.1,0.2,0.3,0.4,0.5,0.6,0.7,0.8,0.9,1,1.1], "tickSize": {"condition": {"test": "datum.value == 0 || datum.value == 0.5 || datum.value == 1", "value": -9}, "value": -5}, "labelExpr": "(datum.value == 0 || datum.value == 0.5 || datum.value == 1) ? datum.label : ''", "labelOverlap": false, "format": "~g", "labelFontSize": 20, "labelPadding": 12, "title": "Scale Factor", "titleFontSize": 22, "titleX": -48, "titleY": 107, "titleAngle": -90, "titleAlign": "center", "titleBaseline": "alphabetic"}}}},
        {"data": {"name": "one"}, "mark": {"type": "text", "text": "=", "fontSize": 27, "fontWeight": "bold", "align": "left", "baseline": "alphabetic", "color": "black"}, "encoding": {
          "x": {"datum": 55.9, "axis": {"values": [0,5,10,15,20,25,30,35,40,45,50,55,60,65,70,75,80,85,90,95,100], "tickSize": {"condition": {"test": "datum.value % 20 === 0", "value": -9}, "value": -5}, "labelExpr": "datum.value % 20 === 0 ? datum.label : ''", "labelOverlap": false, "labelFontSize": 20, "labelPadding": 11, "format": "d", "title": "pₜ  [GeV/c]", "titleFontSize": 20, "titleX": 327, "titleY": 47, "titleAlign": "center", "titleBaseline": "alphabetic"}},
          "y": {"datum": 0.203, "axis": {"values": [0,0.1,0.2,0.3,0.4,0.5,0.6,0.7,0.8,0.9,1,1.1], "tickSize": {"condition": {"test": "datum.value == 0 || datum.value == 0.5 || datum.value == 1", "value": -9}, "value": -5}, "labelExpr": "(datum.value == 0 || datum.value == 0.5 || datum.value == 1) ? datum.label : ''", "labelOverlap": false, "format": "~g", "labelFontSize": 20, "labelPadding": 12, "title": "Scale Factor", "titleFontSize": 22, "titleX": -48, "titleY": 107, "titleAngle": -90, "titleAlign": "center", "titleBaseline": "alphabetic"}}}},
        {"data": {"name": "one"}, "mark": {"type": "rule", "color": "black", "strokeWidth": 1.5}, "encoding": {
          "x": {"datum": 60.1, "axis": {"values": [0,5,10,15,20,25,30,35,40,45,50,55,60,65,70,75,80,85,90,95,100], "tickSize": {"condition": {"test": "datum.value % 20 === 0", "value": -9}, "value": -5}, "labelExpr": "datum.value % 20 === 0 ? datum.label : ''", "labelOverlap": false, "labelFontSize": 20, "labelPadding": 11, "format": "d", "title": "pₜ  [GeV/c]", "titleFontSize": 20, "titleX": 327, "titleY": 47, "titleAlign": "center", "titleBaseline": "alphabetic"}},
          "x2": {"datum": 68.7},
          "y": {"datum": 0.249, "axis": {"values": [0,0.1,0.2,0.3,0.4,0.5,0.6,0.7,0.8,0.9,1,1.1], "tickSize": {"condition": {"test": "datum.value == 0 || datum.value == 0.5 || datum.value == 1", "value": -9}, "value": -5}, "labelExpr": "(datum.value == 0 || datum.value == 0.5 || datum.value == 1) ? datum.label : ''", "labelOverlap": false, "format": "~g", "labelFontSize": 20, "labelPadding": 12, "title": "Scale Factor", "titleFontSize": 22, "titleX": -48, "titleY": 107, "titleAngle": -90, "titleAlign": "center", "titleBaseline": "alphabetic"}}}},
        {"data": {"name": "one"}, "mark": {"type": "text", "text": "∈", "font": "DejaVu Sans", "fontSize": 17, "align": "left", "baseline": "alphabetic", "color": "#19b3b3"}, "encoding": {
          "x": {"datum": 60.3, "axis": {"values": [0,5,10,15,20,25,30,35,40,45,50,55,60,65,70,75,80,85,90,95,100], "tickSize": {"condition": {"test": "datum.value % 20 === 0", "value": -9}, "value": -5}, "labelExpr": "datum.value % 20 === 0 ? datum.label : ''", "labelOverlap": false, "labelFontSize": 20, "labelPadding": 11, "format": "d", "title": "pₜ  [GeV/c]", "titleFontSize": 20, "titleX": 327, "titleY": 47, "titleAlign": "center", "titleBaseline": "alphabetic"}},
          "y": {"datum": 0.307, "axis": {"values": [0,0.1,0.2,0.3,0.4,0.5,0.6,0.7,0.8,0.9,1,1.1], "tickSize": {"condition": {"test": "datum.value == 0 || datum.value == 0.5 || datum.value == 1", "value": -9}, "value": -5}, "labelExpr": "(datum.value == 0 || datum.value == 0.5 || datum.value == 1) ? datum.label : ''", "labelOverlap": false, "format": "~g", "labelFontSize": 20, "labelPadding": 12, "title": "Scale Factor", "titleFontSize": 22, "titleX": -48, "titleY": 107, "titleAngle": -90, "titleAlign": "center", "titleBaseline": "alphabetic"}}}},
        {"data": {"name": "one"}, "mark": {"type": "text", "text": "data", "fontSize": 19, "fontWeight": "bold", "align": "left", "baseline": "alphabetic", "color": "#19b3b3"}, "encoding": {
          "x": {"datum": 62.4, "axis": {"values": [0,5,10,15,20,25,30,35,40,45,50,55,60,65,70,75,80,85,90,95,100], "tickSize": {"condition": {"test": "datum.value % 20 === 0", "value": -9}, "value": -5}, "labelExpr": "datum.value % 20 === 0 ? datum.label : ''", "labelOverlap": false, "labelFontSize": 20, "labelPadding": 11, "format": "d", "title": "pₜ  [GeV/c]", "titleFontSize": 20, "titleX": 327, "titleY": 47, "titleAlign": "center", "titleBaseline": "alphabetic"}},
          "y": {"datum": 0.268, "axis": {"values": [0,0.1,0.2,0.3,0.4,0.5,0.6,0.7,0.8,0.9,1,1.1], "tickSize": {"condition": {"test": "datum.value == 0 || datum.value == 0.5 || datum.value == 1", "value": -9}, "value": -5}, "labelExpr": "(datum.value == 0 || datum.value == 0.5 || datum.value == 1) ? datum.label : ''", "labelOverlap": false, "format": "~g", "labelFontSize": 20, "labelPadding": 12, "title": "Scale Factor", "titleFontSize": 22, "titleX": -48, "titleY": 107, "titleAngle": -90, "titleAlign": "center", "titleBaseline": "alphabetic"}}}},
        {"data": {"name": "one"}, "mark": {"type": "text", "text": "∈", "font": "DejaVu Sans", "fontSize": 17, "align": "left", "baseline": "alphabetic", "color": "#b4b41e"}, "encoding": {
          "x": {"datum": 61.2, "axis": {"values": [0,5,10,15,20,25,30,35,40,45,50,55,60,65,70,75,80,85,90,95,100], "tickSize": {"condition": {"test": "datum.value % 20 === 0", "value": -9}, "value": -5}, "labelExpr": "datum.value % 20 === 0 ? datum.label : ''", "labelOverlap": false, "labelFontSize": 20, "labelPadding": 11, "format": "d", "title": "pₜ  [GeV/c]", "titleFontSize": 20, "titleX": 327, "titleY": 47, "titleAlign": "center", "titleBaseline": "alphabetic"}},
          "y": {"datum": 0.156, "axis": {"values": [0,0.1,0.2,0.3,0.4,0.5,0.6,0.7,0.8,0.9,1,1.1], "tickSize": {"condition": {"test": "datum.value == 0 || datum.value == 0.5 || datum.value == 1", "value": -9}, "value": -5}, "labelExpr": "(datum.value == 0 || datum.value == 0.5 || datum.value == 1) ? datum.label : ''", "labelOverlap": false, "format": "~g", "labelFontSize": 20, "labelPadding": 12, "title": "Scale Factor", "titleFontSize": 22, "titleX": -48, "titleY": 107, "titleAngle": -90, "titleAlign": "center", "titleBaseline": "alphabetic"}}}},
        {"data": {"name": "one"}, "mark": {"type": "text", "text": "MC", "fontSize": 18, "fontWeight": "bold", "align": "left", "baseline": "alphabetic", "color": "#b4b41e"}, "encoding": {
          "x": {"datum": 63.8, "axis": {"values": [0,5,10,15,20,25,30,35,40,45,50,55,60,65,70,75,80,85,90,95,100], "tickSize": {"condition": {"test": "datum.value % 20 === 0", "value": -9}, "value": -5}, "labelExpr": "datum.value % 20 === 0 ? datum.label : ''", "labelOverlap": false, "labelFontSize": 20, "labelPadding": 11, "format": "d", "title": "pₜ  [GeV/c]", "titleFontSize": 20, "titleX": 327, "titleY": 47, "titleAlign": "center", "titleBaseline": "alphabetic"}},
          "y": {"datum": 0.11, "axis": {"values": [0,0.1,0.2,0.3,0.4,0.5,0.6,0.7,0.8,0.9,1,1.1], "tickSize": {"condition": {"test": "datum.value == 0 || datum.value == 0.5 || datum.value == 1", "value": -9}, "value": -5}, "labelExpr": "(datum.value == 0 || datum.value == 0.5 || datum.value == 1) ? datum.label : ''", "labelOverlap": false, "format": "~g", "labelFontSize": 20, "labelPadding": 12, "title": "Scale Factor", "titleFontSize": 22, "titleX": -48, "titleY": 107, "titleAngle": -90, "titleAlign": "center", "titleBaseline": "alphabetic"}}}}
      ]
    }
  ]
}
